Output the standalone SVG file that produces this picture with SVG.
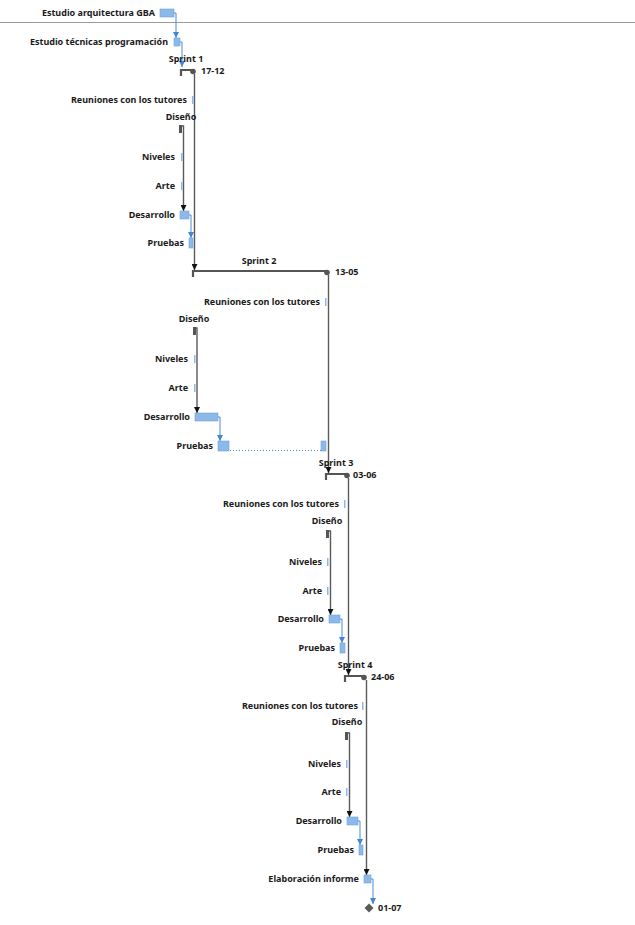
<svg xmlns="http://www.w3.org/2000/svg" width="635" height="925" viewBox="0 0 635 925">
  <style>
    text { font-family: "Noto Sans", "Open Sans", sans-serif; font-weight: bold; font-size: 9px; fill: #1a1a1a; }
    .r { text-anchor: end; }
    .c { text-anchor: middle; }
    .task { fill: #8DB9EA; stroke: #6FA2DA; stroke-width: 0.6; }
    .thin { fill: #8DB9EA; }
    .sum { fill: none; stroke: #555; stroke-width: 2.2; }
    .cap { fill: #555; }
    .grp { fill: #555; }
    .lb { fill: none; stroke: #4A8DD6; stroke-width: 1; }
    .lk { fill: none; stroke: #5a5a5a; stroke-width: 1.4; }
    .dot { fill: none; stroke: #4A8DD6; stroke-width: 1; stroke-dasharray: 1 2; }
  </style>
  <defs>
    <marker id="ab" viewBox="0 0 6 6" refX="6" refY="3" markerWidth="6" markerHeight="6" markerUnits="userSpaceOnUse" orient="auto">
      <path d="M0,0 L6,3 L0,6 z" fill="#3F86D4"/>
    </marker>
    <marker id="ak" viewBox="0 0 6 6" refX="6" refY="3" markerWidth="6" markerHeight="6" markerUnits="userSpaceOnUse" orient="auto">
      <path d="M0,0 L6,3 L0,6 z" fill="#111"/>
    </marker>
  </defs>

  <rect width="635" height="925" fill="#fff"/>
  <line x1="0" y1="22.5" x2="635" y2="22.5" stroke="#9a9a9a" stroke-width="1"/>

  <!-- links -->
  <g id="connectors">
    <path class="lb" d="M174,13 H176 V38" marker-end="url(#ab)"/>
    <path class="lb" d="M180,42 H182 V67" marker-end="url(#ab)"/>
    <path class="lk" d="M182,126 H183.5 V211" marker-end="url(#ak)"/>
    <path class="lb" d="M189,215 H191 V238" marker-end="url(#ab)"/>
    <path class="lk" d="M194.5,74 V270" marker-end="url(#ak)"/>

    <path class="lk" d="M196,328 H197 V413" marker-end="url(#ak)"/>
    <path class="lb" d="M218,417 H220 V441" marker-end="url(#ab)"/>
    <path class="dot" d="M230,450.5 H321"/>
    <path class="lk" d="M328.5,275 V473" marker-end="url(#ak)"/>

    <path class="lk" d="M329,531 H330.5 V615" marker-end="url(#ak)"/>
    <path class="lb" d="M340,619 H342 V643" marker-end="url(#ab)"/>
    <path class="lk" d="M348.5,478 V675" marker-end="url(#ak)"/>

    <path class="lk" d="M348,733 H349.5 V817" marker-end="url(#ak)"/>
    <path class="lb" d="M358,821 H360 V845" marker-end="url(#ab)"/>
    <path class="lk" d="M366.5,680 V875" marker-end="url(#ak)"/>
    <path class="lb" d="M371,879 H373 V904" marker-end="url(#ab)"/>
  </g>

  <g id="estudio-gba">
    <rect class="task" x="160" y="9" width="14" height="8"/>
    <text class="r" x="155" y="16">Estudio arquitectura GBA</text>
  </g>
  <g id="estudio-tecnicas">
    <rect class="task" x="174" y="38" width="6" height="8"/>
    <text class="r" x="168" y="45">Estudio técnicas programación</text>
  </g>

  <!-- Sprint 1 -->
  <g id="sprint1">
    <path class="sum" d="M181,76 V70 H193"/>
    <circle class="cap" cx="193" cy="71.5" r="2.8"/>
    <text class="c" x="186" y="62">Sprint 1</text>
    <text x="201" y="74">17-12</text>
  </g>
  <g id="s1-reuniones">
    <rect class="thin" x="192" y="96" width="1.5" height="8"/>
    <text class="r" x="187" y="103">Reuniones con los tutores</text>
  </g>
  <g id="s1-diseno">
    <rect class="grp" x="179" y="125" width="3" height="8"/>
    <text class="c" x="181" y="120">Diseño</text>
  </g>
  <g id="s1-niveles">
    <rect class="thin" x="181" y="153" width="1.5" height="8"/>
    <text class="r" x="175" y="160">Niveles</text>
  </g>
  <g id="s1-arte">
    <rect class="thin" x="181" y="182" width="1.5" height="8"/>
    <text class="r" x="175" y="189">Arte</text>
  </g>
  <g id="s1-desarrollo">
    <rect class="task" x="180" y="211" width="9" height="8"/>
    <text class="r" x="175" y="218">Desarrollo</text>
  </g>
  <g id="s1-pruebas">
    <rect class="task" x="189" y="238" width="4" height="10"/>
    <text class="r" x="184" y="246">Pruebas</text>
  </g>

  <!-- Sprint 2 -->
  <g id="sprint2">
    <path class="sum" d="M193,277 V271 H327"/>
    <circle class="cap" cx="327" cy="272.5" r="2.8"/>
    <text class="c" x="259" y="264">Sprint 2</text>
    <text x="335" y="275">13-05</text>
  </g>
  <g id="s2-reuniones">
    <rect class="thin" x="325" y="298" width="1.5" height="8"/>
    <text class="r" x="320" y="305">Reuniones con los tutores</text>
  </g>
  <g id="s2-diseno">
    <rect class="grp" x="193" y="327" width="3" height="8"/>
    <text class="c" x="194" y="322">Diseño</text>
  </g>
  <g id="s2-niveles">
    <rect class="thin" x="194" y="355" width="1.5" height="8"/>
    <text class="r" x="188" y="362">Niveles</text>
  </g>
  <g id="s2-arte">
    <rect class="thin" x="194" y="384" width="1.5" height="8"/>
    <text class="r" x="188" y="391">Arte</text>
  </g>
  <g id="s2-desarrollo">
    <rect class="task" x="195" y="413" width="23" height="8"/>
    <text class="r" x="190" y="420">Desarrollo</text>
  </g>
  <g id="s2-pruebas">
    <rect class="task" x="218" y="441" width="11" height="10"/>
    <rect class="task" x="321" y="441" width="5" height="10"/>
    <text class="r" x="213" y="449">Pruebas</text>
  </g>

  <!-- Sprint 3 -->
  <g id="sprint3">
    <path class="sum" d="M326,480 V474 H347"/>
    <circle class="cap" cx="347" cy="475.5" r="2.8"/>
    <text class="c" x="336" y="466">Sprint 3</text>
    <text x="353" y="478">03-06</text>
  </g>
  <g id="s3-reuniones">
    <rect class="thin" x="344" y="500" width="1.5" height="8"/>
    <text class="r" x="339" y="507">Reuniones con los tutores</text>
  </g>
  <g id="s3-diseno">
    <rect class="grp" x="326" y="530" width="3" height="8"/>
    <text class="c" x="327" y="524">Diseño</text>
  </g>
  <g id="s3-niveles">
    <rect class="thin" x="327" y="558" width="1.5" height="8"/>
    <text class="r" x="322" y="565">Niveles</text>
  </g>
  <g id="s3-arte">
    <rect class="thin" x="327" y="587" width="1.5" height="8"/>
    <text class="r" x="322" y="594">Arte</text>
  </g>
  <g id="s3-desarrollo">
    <rect class="task" x="329" y="615" width="11" height="8"/>
    <text class="r" x="324" y="622">Desarrollo</text>
  </g>
  <g id="s3-pruebas">
    <rect class="task" x="340" y="643" width="5" height="10"/>
    <text class="r" x="335" y="651">Pruebas</text>
  </g>

  <!-- Sprint 4 -->
  <g id="sprint4">
    <path class="sum" d="M345,682 V676 H364"/>
    <circle class="cap" cx="364" cy="677.5" r="2.8"/>
    <text class="c" x="355" y="668">Sprint 4</text>
    <text x="371" y="680">24-06</text>
  </g>
  <g id="s4-reuniones">
    <rect class="thin" x="362" y="702" width="1.5" height="8"/>
    <text class="r" x="358" y="709">Reuniones con los tutores</text>
  </g>
  <g id="s4-diseno">
    <rect class="grp" x="345" y="732" width="3" height="8"/>
    <text class="c" x="347" y="725">Diseño</text>
  </g>
  <g id="s4-niveles">
    <rect class="thin" x="346" y="760" width="1.5" height="8"/>
    <text class="r" x="341" y="767">Niveles</text>
  </g>
  <g id="s4-arte">
    <rect class="thin" x="346" y="788" width="1.5" height="8"/>
    <text class="r" x="341" y="795">Arte</text>
  </g>
  <g id="s4-desarrollo">
    <rect class="task" x="347" y="817" width="11" height="8"/>
    <text class="r" x="342" y="824">Desarrollo</text>
  </g>
  <g id="s4-pruebas">
    <rect class="task" x="359" y="845" width="4" height="10"/>
    <text class="r" x="354" y="853">Pruebas</text>
  </g>

  <g id="elaboracion-informe">
    <rect class="task" x="364" y="875" width="7" height="8"/>
    <text class="r" x="359" y="882">Elaboración informe</text>
  </g>
  <g id="fin">
    <path d="M369,903.5 L373.5,908 L369,912.5 L364.5,908 z" fill="#5a5a5a"/>
    <text x="378" y="911">01-07</text>
  </g>
</svg>
